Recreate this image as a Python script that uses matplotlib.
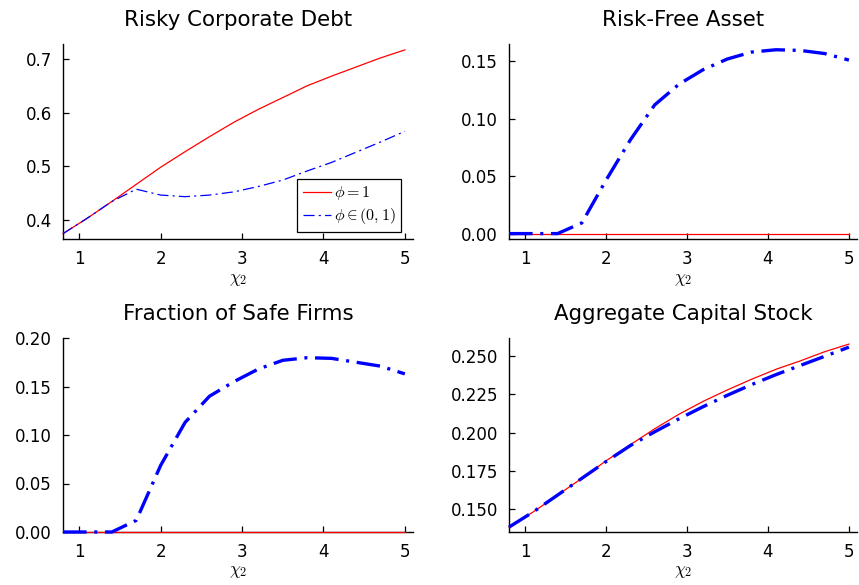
import matplotlib
matplotlib.use('Agg')
import matplotlib.pyplot as plt

plt.rcParams['font.family'] = ['DejaVu Sans']
plt.rcParams['mathtext.fontset'] = 'cm'
plt.rcParams['lines.scale_dashes'] = False

# grid of chi_2 values
chi2 = [0.8, 1.1, 1.4, 1.7, 2.0, 2.3, 2.6, 2.9, 3.2, 3.5, 3.8, 4.1, 4.4, 4.7, 5.0]

# phi = 1
debt_full = [0.374, 0.403, 0.434, 0.466, 0.498, 0.527, 0.555, 0.582, 0.606, 0.628, 0.650, 0.668, 0.685, 0.702, 0.717]
riskfree_full = [0.0] * 15
safe_full = [0.0] * 15
capital_full = [0.138, 0.148, 0.159, 0.170, 0.1815, 0.192, 0.2025, 0.212, 0.2205, 0.228, 0.235, 0.2415, 0.247, 0.253, 0.258]

# phi in (0,1)
debt_part = [0.374, 0.403, 0.434, 0.457, 0.446, 0.443, 0.446, 0.452, 0.462, 0.474, 0.491, 0.507, 0.526, 0.545, 0.565]
riskfree_part = [0.0, 0.0, 0.0, 0.0093, 0.0466, 0.0816, 0.112, 0.130, 0.1427, 0.152, 0.158, 0.160, 0.1594, 0.1567, 0.151]
safe_part = [0.0, 0.0, 0.0, 0.012, 0.0687, 0.113, 0.140, 0.155, 0.168, 0.177, 0.1797, 0.179, 0.175, 0.171, 0.163]
capital_part = [0.138, 0.148, 0.159, 0.170, 0.181, 0.1915, 0.2005, 0.209, 0.217, 0.2245, 0.2315, 0.238, 0.244, 0.250, 0.256]

W, H = 859, 585
fig = plt.figure(figsize=(W / 100, H / 100), dpi=100)


def add_axes(left, right, top, bottom):
    return fig.add_axes([left / W, 1 - bottom / H, (right - left) / W, (bottom - top) / H])


panels = [
    # title, full, part, rect, ylim, yticks, fmt, thick
    ('Risky Corporate Debt', debt_full, debt_part, (63, 413, 44, 239), (0.364, 0.728),
     [0.4, 0.5, 0.6, 0.7], '{:.1f}', False),
    ('Risk-Free Asset', riskfree_full, riskfree_part, (509, 857, 44, 239), (-0.0047, 0.165),
     [0.0, 0.05, 0.10, 0.15], '{:.2f}', True),
    ('Fraction of Safe Firms', safe_full, safe_part, (63, 413, 338, 532), (0.0, 0.2),
     [0.0, 0.05, 0.10, 0.15, 0.20], '{:.2f}', True),
    ('Aggregate Capital Stock', capital_full, capital_part, (509, 857, 338, 532), (0.1348, 0.262),
     [0.150, 0.175, 0.200, 0.225, 0.250], '{:.3f}', True),
]

for i, (title, yf, yp, rect, ylim, yticks, fmt, thick) in enumerate(panels):
    ax = add_axes(*rect)
    ax.plot(chi2, yf, color='red', lw=0.9, label=r'$\phi = 1$', zorder=3, clip_on=False)
    if thick:
        ax.plot(chi2, yp, color='blue', lw=2.4, dashes=(17, 5.5, 2.2, 5.5),
                dash_capstyle='butt', label=r'$\phi \in (0,1)$', zorder=3, clip_on=False)
    else:
        ax.plot(chi2, yp, color='blue', lw=0.9, dashes=(8, 3, 1.5, 3),
                label=r'$\phi \in (0,1)$', zorder=3, clip_on=False)
    ax.set_xlim(0.8, 5.1)
    ax.set_ylim(*ylim)
    ax.set_xticks([1, 2, 3, 4, 5])
    ax.set_yticks(yticks)
    ax.set_yticklabels([fmt.format(v) for v in yticks])
    ax.spines['top'].set_visible(False)
    ax.spines['right'].set_visible(False)
    for s in ('left', 'bottom'):
        ax.spines[s].set_linewidth(1.0)
    ax.tick_params(direction='in', length=4, width=0.9, labelsize=12, pad=8)
    ax.set_title(title, fontsize=15.4, pad=13)
    ax.set_xlabel(r'$\chi_2$', fontsize=12.5, labelpad=1)
    if i == 0:
        leg = ax.legend(loc='lower right', bbox_to_anchor=(0.966, 0.036), borderaxespad=0,
                        fontsize=11.5, frameon=True, fancybox=False, framealpha=1,
                        handlelength=1.8, handletextpad=0.15, borderpad=0.35,
                        labelspacing=0.25)
        leg.get_frame().set_edgecolor('black')
        leg.get_frame().set_linewidth(0.9)

fig.savefig('out.png', dpi=100)
